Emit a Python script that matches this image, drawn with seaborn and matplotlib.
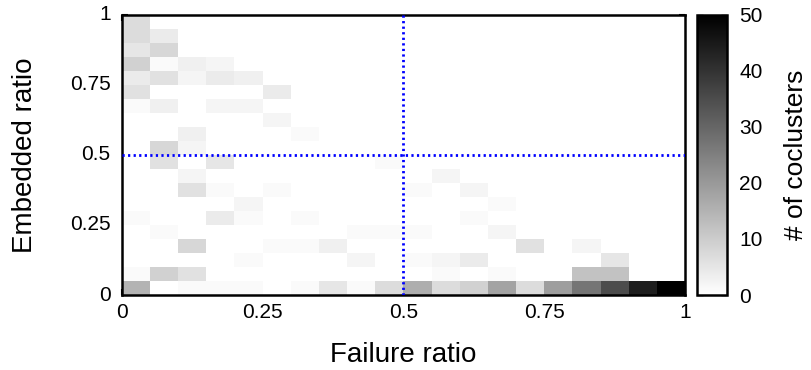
import numpy as np
import pandas as pd
import matplotlib
matplotlib.use("Agg")
import matplotlib.pyplot as plt
import seaborn as sns

# --- DATA ---
# number of coclusters per bin, 20 x 20 bins of width 0.05
# rows go from embedded ratio 1.0 (top) down to 0.0 (bottom),
# columns go from failure ratio 0.0 (left) to 1.0 (right)
counts = [
    [7, 0, 0, 0, 0, 0, 0, 0, 0, 0, 0, 0, 0, 0, 0, 0, 0, 0, 0, 0],
    [7, 4, 0, 0, 0, 0, 0, 0, 0, 0, 0, 0, 0, 0, 0, 0, 0, 0, 0, 0],
    [5, 8, 0, 0, 0, 0, 0, 0, 0, 0, 0, 0, 0, 0, 0, 0, 0, 0, 0, 0],
    [9, 1, 3, 2, 0, 0, 0, 0, 0, 0, 0, 0, 0, 0, 0, 0, 0, 0, 0, 0],
    [4, 6, 2, 4, 3, 0, 0, 0, 0, 0, 0, 0, 0, 0, 0, 0, 0, 0, 0, 0],
    [6, 0, 0, 0, 0, 4, 0, 0, 0, 0, 0, 0, 0, 0, 0, 0, 0, 0, 0, 0],
    [1, 3, 0, 2, 2, 0, 0, 0, 0, 0, 0, 0, 0, 0, 0, 0, 0, 0, 0, 0],
    [0, 0, 0, 0, 0, 2, 0, 0, 0, 0, 0, 0, 0, 0, 0, 0, 0, 0, 0, 0],
    [0, 0, 3, 0, 0, 0, 1, 0, 0, 0, 0, 0, 0, 0, 0, 0, 0, 0, 0, 0],
    [0, 8, 2, 0, 0, 0, 0, 0, 0, 0, 0, 0, 0, 0, 0, 0, 0, 0, 0, 0],
    [0, 6, 0, 5, 0, 0, 0, 0, 0, 1, 0, 0, 0, 0, 0, 0, 0, 0, 0, 0],
    [0, 0, 2, 0, 0, 0, 0, 0, 0, 0, 0, 2, 0, 0, 0, 0, 0, 0, 0, 0],
    [0, 0, 6, 1, 0, 1, 0, 0, 0, 0, 1, 0, 2, 0, 0, 0, 0, 0, 0, 0],
    [0, 0, 0, 0, 2, 0, 0, 0, 0, 0, 0, 0, 0, 1, 0, 0, 0, 0, 0, 0],
    [1, 0, 0, 4, 1, 0, 1, 0, 0, 0, 0, 0, 1, 0, 0, 0, 0, 0, 0, 0],
    [0, 1, 0, 0, 0, 0, 0, 0, 1, 1, 1, 0, 0, 2, 0, 0, 0, 0, 0, 0],
    [0, 0, 8, 0, 0, 1, 1, 3, 0, 0, 0, 0, 0, 0, 6, 0, 2, 0, 0, 0],
    [0, 0, 0, 0, 1, 0, 0, 0, 2, 0, 1, 2, 4, 0, 0, 0, 0, 5, 0, 0],
    [1, 9, 6, 0, 0, 0, 0, 0, 0, 0, 0, 1, 0, 1, 0, 0, 12, 12, 0, 0],
    [15, 0, 1, 1, 1, 0, 1, 5, 1, 7, 16, 7, 9, 18, 7, 19, 27, 35, 44, 50],
]
ratio_ticks = [0, 0.25, 0.5, 0.75, 1]
ratio_tick_labels = ["0", "0.25", "0.5", "0.75", "1"]
cbar_ticks = [0, 10, 20, 30, 40, 50]
threshold = 0.5

n_bins = len(counts)
bin_width = 1.0 / n_bins

# rows/cols labelled by bin start
emb_bins = np.round(np.arange(n_bins)[::-1] * bin_width, 2)
fail_bins = np.round(np.arange(n_bins) * bin_width, 2)
df = pd.DataFrame(counts, index=emb_bins, columns=fail_bins)

sns.set_style("white")
plt.rcParams['font.family'] = ['Liberation Sans', 'DejaVu Sans']
plt.rcParams['text.color'] = 'black'
plt.rcParams['axes.labelcolor'] = 'black'
plt.rcParams['xtick.color'] = 'black'
plt.rcParams['ytick.color'] = 'black'

fig = plt.figure(figsize=(8.12, 3.70), dpi=100)
ax = fig.add_axes([0.150, 0.2027, 0.6936, 0.7568])
cax = fig.add_axes([0.8584, 0.2027, 0.0369, 0.7568])

sns.heatmap(df, ax=ax, cbar_ax=cax, cmap="gray_r", vmin=0, vmax=50,
            cbar_kws={"ticks": cbar_ticks})

# heatmap works in cell units: convert ratio values to cell positions
tick_pos = [t / bin_width for t in ratio_ticks]
ax.set_xticks(tick_pos)
ax.set_xticklabels(ratio_tick_labels, rotation=0)
ax.set_yticks([n_bins - p for p in tick_pos])
ax.set_yticklabels(ratio_tick_labels, rotation=0)

# threshold lines
ax.axvline(threshold / bin_width, color="#0000ff", lw=2, ls=(0, (0.8, 1.2)), zorder=3)
ax.axhline(n_bins - threshold / bin_width, color="#0000ff", lw=2, ls=(0, (0.8, 1.2)), zorder=3)

for s in ax.spines.values():
    s.set_visible(True)
    s.set_color("black")
    s.set_linewidth(1.8)
ax.tick_params(direction="in", top=True, right=True, bottom=True, left=True,
               length=4, width=1.5, labelsize=15, color="black", labelcolor="black")
ax.tick_params(axis="x", pad=6)
ax.tick_params(axis="y", pad=8)

ax.set_xlabel("Failure ratio", fontsize=20, va="center", color="black")
ax.xaxis.set_label_coords(0.5, -0.214)
ax.set_ylabel("Embedded ratio", fontsize=20, va="center", color="black")
ax.yaxis.set_label_coords(-0.171, 0.5)

cb = ax.collections[0].colorbar
cb.outline.set_visible(True)
cb.outline.set_linewidth(1.8)
cb.outline.set_edgecolor("black")
cax.tick_params(direction="in", left=True, right=True, length=4, width=1,
                labelsize=15, pad=9, color="black", labelcolor="black")
cax.set_ylabel("# of coclusters", fontsize=19, va="center", rotation=90, color="black")
cax.yaxis.set_label_coords(3.3, 0.5)

fig.savefig("out.png", dpi=100)
